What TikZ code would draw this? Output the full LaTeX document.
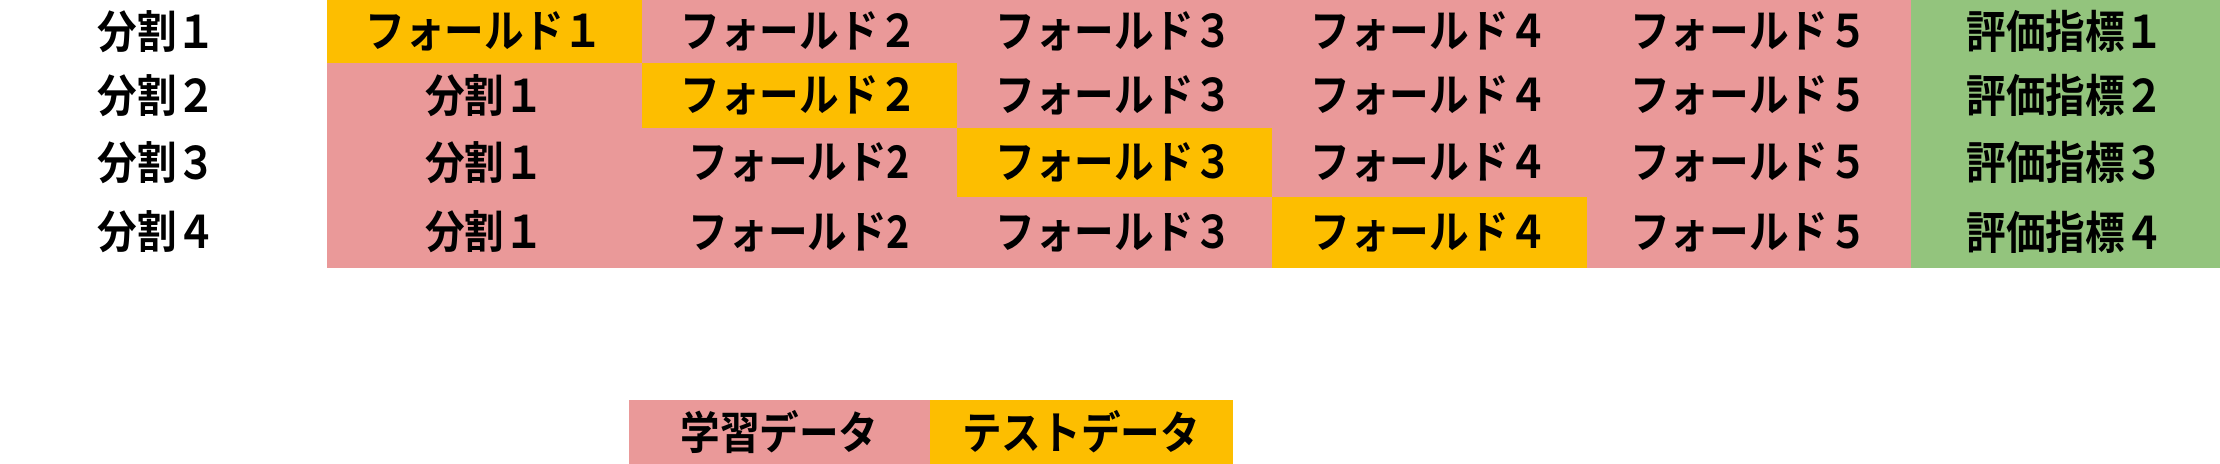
\documentclass[tikz,border=0pt]{standalone}
\usepackage{fontspec}
\newfontfamily\jpfont{Noto Sans CJK JP}[UprightFont=* Bold, FakeStretch=0.88]
\usepackage{tikz}
\usetikzlibrary{positioning}
\definecolor{trainred}{HTML}{EA9999}
\definecolor{testorange}{HTML}{FDBE00}
\definecolor{scoregreen}{HTML}{93C47D}

\begin{document}
\begin{tikzpicture}[font=\jpfont\fontsize{22.5pt}{22.5pt}\selectfont, cell/.style={rectangle, inner sep=0pt, minimum width=157.5pt, fill=trainred, draw=trainred, line width=0.3pt}, test/.style={cell, fill=testorange, draw=testorange}, score/.style={cell, minimum width=154.5pt, fill=scoregreen, draw=scoregreen}, wide/.style={minimum width=162pt}, r1/.style={minimum height=31.5pt}, r2/.style={minimum height=32.5pt}, r3/.style={minimum height=34.5pt}, r4/.style={minimum height=35pt}]
	\useasboundingbox (0pt, 0pt) rectangle (1110pt, -232pt);
	% split 1
	\draw (78.5pt, -15.75pt)node(s1){分割１};
	\draw (242.25pt, -15.75pt)node[test, r1](f11){フォールド１};
	\draw (399.75pt, -15.75pt)node[cell, r1](f12){フォールド２};
	\draw (557.25pt, -15.75pt)node[cell, r1](f13){フォールド３};
	\draw (714.75pt, -15.75pt)node[cell, r1](f14){フォールド４};
	\draw (874.5pt, -15.75pt)node[cell, wide, r1](f15){フォールド５};
	\draw (1032.75pt, -15.75pt)node[score, r1](m1){評価指標１};
	% split 2
	\draw (78.5pt, -47.75pt)node(s2){分割２};
	\draw (242.25pt, -47.75pt)node[cell, r2](f21){分割１};
	\draw (399.75pt, -47.75pt)node[test, r2](f22){フォールド２};
	\draw (557.25pt, -47.75pt)node[cell, r2](f23){フォールド３};
	\draw (714.75pt, -47.75pt)node[cell, r2](f24){フォールド４};
	\draw (874.5pt, -47.75pt)node[cell, wide, r2](f25){フォールド５};
	\draw (1032.75pt, -47.75pt)node[score, r2](m2){評価指標２};
	% split 3
	\draw (78.5pt, -81.25pt)node(s3){分割３};
	\draw (242.25pt, -81.25pt)node[cell, r3](f31){分割１};
	\draw (399.75pt, -81.25pt)node[cell, r3](f32){フォールド2};
	\draw (557.25pt, -81.25pt)node[test, r3](f33){フォールド３};
	\draw (714.75pt, -81.25pt)node[cell, r3](f34){フォールド４};
	\draw (874.5pt, -81.25pt)node[cell, wide, r3](f35){フォールド５};
	\draw (1032.75pt, -81.25pt)node[score, r3](m3){評価指標３};
	% split 4
	\draw (78.5pt, -116pt)node(s4){分割４};
	\draw (242.25pt, -116pt)node[cell, r4](f41){分割１};
	\draw (399.75pt, -116pt)node[cell, r4](f42){フォールド2};
	\draw (557.25pt, -116pt)node[cell, r4](f43){フォールド３};
	\draw (714.75pt, -116pt)node[test, r4](f44){フォールド４};
	\draw (874.5pt, -116pt)node[cell, wide, r4](f45){フォールド５};
	\draw (1032.75pt, -116pt)node[score, r4](m4){評価指標４};
	% legend
	\draw (389.75pt, -216pt)node[cell, minimum width=150.5pt, minimum height=32pt](train){学習データ};
	\draw (540.5pt, -216pt)node[test, minimum width=151pt, minimum height=32pt](test){テストデータ};
\end{tikzpicture}
\end{document}
